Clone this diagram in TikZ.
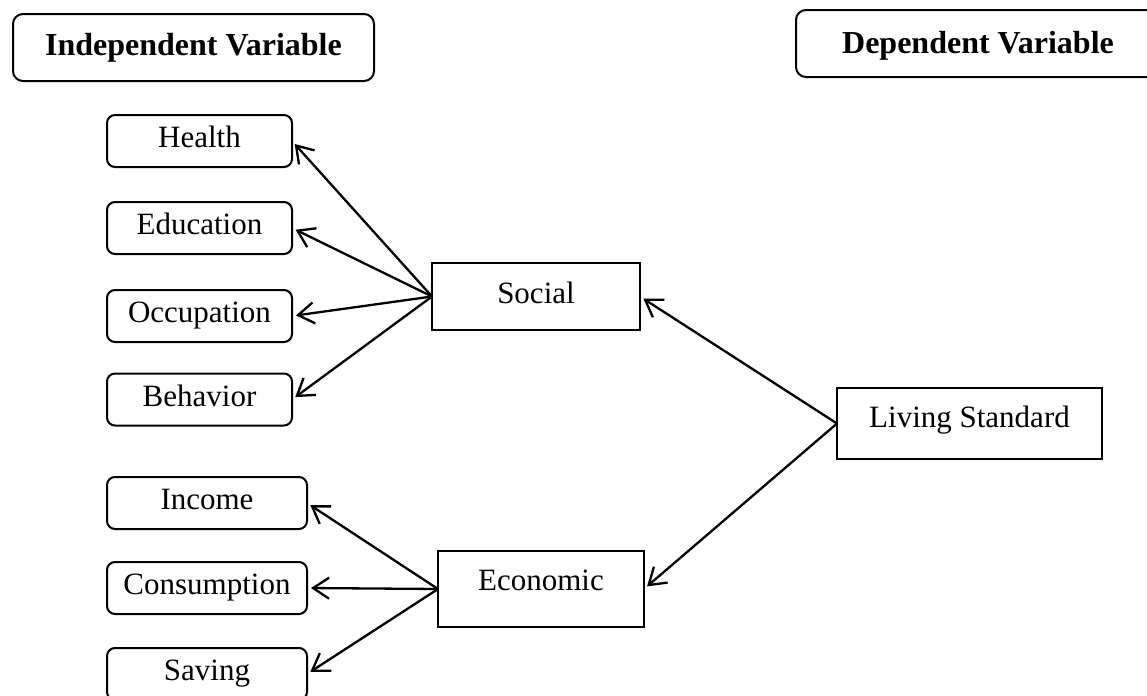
\documentclass[tikz,border=0pt]{standalone}
\usepackage{fontspec}
\setmainfont{Liberation Serif}
\usetikzlibrary{arrows.meta}
\begin{document}
\begin{tikzpicture}[x=0.5pt,y=-0.5pt,
  every node/.style={inner sep=0pt, outer sep=0pt, font=\fontsize{15.5}{18}\selectfont, text height=10.5pt, text depth=4pt},
  rbox/.style={draw, line width=1pt, rounded corners=4pt, minimum width=#1, minimum height=26pt},
  sbox/.style={draw, line width=1pt},
  hbox/.style={draw, line width=1pt, rounded corners=5pt, font=\fontsize{16}{19}\selectfont\bfseries, text height=10.5pt, text depth=3pt},
  arr/.style={line width=1.15pt, -{Straight Barb[length=8pt,width=10.5pt,line width=1.15pt]}, shorten >=2pt}
]
\path[use as bounding box, clip] (0,0) rectangle (1147,696);
\fill[white] (0,0) rectangle (1147,696);

\node[hbox, minimum width=180.5pt, minimum height=33.5pt] (indep) at (193.5,47.5) {Independent Variable};
\node[hbox, minimum width=182pt, minimum height=33.5pt, text height=11pt, text depth=1pt] (dep) at (978,43.5) {Dependent Variable};

\node[rbox=92.5pt] (health) at (199.5,141) {Health};
\node[rbox=92.5pt] (edu) at (199.5,228) {Education};
\node[rbox=92.5pt] (occ) at (199.5,316) {Occupation};
\node[rbox=92.5pt] (beh) at (199.5,399.5) {Behavior};
\node[rbox=100pt] (inc) at (207,503) {Income};
\node[rbox=100pt] (con) at (207,588) {Consumption};
\node[rbox=100pt] (sav) at (207,674) {Saving};

\node[sbox, minimum width=104pt, minimum height=33.5pt] (soc) at (536,296.5) {Social};
\node[sbox, minimum width=103pt, minimum height=38pt, text depth=9.5pt] (eco) at (541,589) {Economic};
\node[sbox, minimum width=132.5pt, minimum height=35.5pt, text depth=6.5pt] (liv) at (969.5,423.5) {Living Standard};

\draw[arr] (soc.west) -- (health.east);
\draw[arr] (soc.west) -- (edu.east);
\draw[arr] (soc.west) -- (occ.east);
\draw[arr] (soc.west) -- (beh.east);
\draw[arr] (eco.west) -- (inc.east);
\draw[arr] (eco.west) -- (con.east);
\draw[arr] (eco.west) -- (sav.east);
\draw[arr] (liv.west) -- (soc.east);
\draw[arr] (liv.west) -- (eco.east);
\end{tikzpicture}
\end{document}
